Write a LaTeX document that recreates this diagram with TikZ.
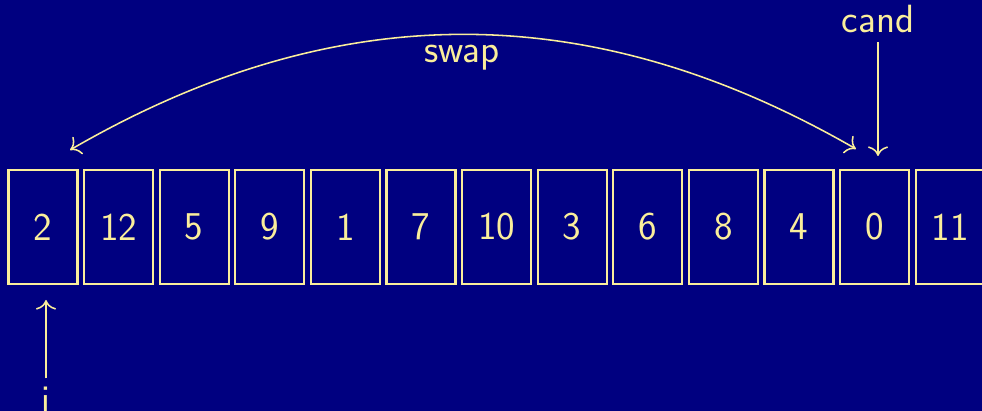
\documentclass[tikz,border=0pt]{standalone}
\usepackage{tikz}
\usetikzlibrary{arrows.meta}
\definecolor{navybg}{RGB}{0,0,128}
\definecolor{chalk}{RGB}{250,238,155}
\tikzset{
  cell/.style={draw=chalk, line width=1.5pt, minimum width=1.725cm,
    minimum height=2.85cm, inner sep=0pt, text=chalk,
    font=\sffamily\fontsize{28}{34}\selectfont},
  lbl/.style={text=chalk, anchor=base, inner sep=0.22cm,
    font=\sffamily\fontsize{28}{34}\selectfont},
  pointer/.style={->, draw=chalk, line width=1.1pt}
}
\begin{document}
\begin{tikzpicture}[x=0.025cm, y=-0.025cm, >={To[scale=1.7]}]
        \fill[navybg] (0,0) rectangle (982,411);
        \useasboundingbox (0,0) rectangle (982,411);
        \foreach \v [count=\k] in {2,12,5,9,1,7,10,3,6,8,4,0,11}
          \node[cell] (c\k) at ({43+75.6*(\k-1)},227) {\v};
        \node[lbl] (cand) at (878,33) {cand};
        \node[lbl] (swap) at (462,63) {swap};
        \node[lbl] (i) at (46,413) {i};
        \coordinate (sl) at (70,150);
        \coordinate (sr) at (856,149);
        \coordinate (ct) at (878,156);
        \coordinate (it) at (46,300);
        \draw[pointer, <->] (sl) to[bend left=30] (sr);
        \draw[pointer] (cand.south) -- (ct);
        \draw[pointer] (i.north) -- (it);
    \end{tikzpicture}
\end{document}
